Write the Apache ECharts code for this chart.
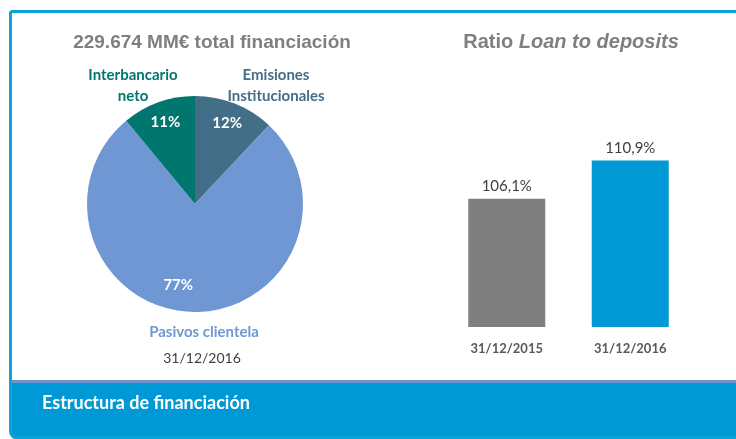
<!DOCTYPE html>
<html><head><meta charset="utf-8">
<script src="https://cdn.jsdelivr.net/npm/echarts@6/dist/echarts.min.js"></script>
<style>html,body{margin:0;padding:0;background:#fff}#c{width:736px;height:439px}</style>
</head><body><div id="c"></div>
<script>
const pieNames = ['Emisiones\nInstitucionales', 'Pasivos clientela', 'Interbancario\nneto'];
const pieValues = [12, 77, 11];
const pieColors = ['#436E87', '#6F97D4', '#00766E'];
const barCategories = ['31/12/2015', '31/12/2016'];
const barValues = [106.1, 110.9];
const barColors = ['#7F7F7F', '#0099D6'];
const pieTitle = '229.674 MM€ total financiación';
const pieDate = '31/12/2016';
const bannerText = 'Estructura de financiación';

const F = 'Lato, "Noto Sans", sans-serif';
const chart = echarts.init(document.getElementById('c'));
const cx = 195, cy = 204, R = 108;

chart.setOption({
  animation: false,
  title: [
    { text: pieTitle, left: 207, top: 28, textAlign: 'center',
      textStyle: { fontFamily: 'Liberation Sans, Arial', fontSize: 19, fontWeight: 'bold', color: '#7F7F7F' } },
    { text: '{a|Ratio }{b|Loan to deposits}', left: 566, top: 27, textAlign: 'center',
      textStyle: { rich: {
        a: { fontFamily: 'Liberation Sans, Arial', fontSize: 20, fontWeight: 'bold', color: '#7F7F7F' },
        b: { fontFamily: 'Liberation Sans, Arial', fontSize: 20, fontWeight: 'bold', fontStyle: 'italic', color: '#7F7F7F' } } } }
  ],
  grid: { left: 445, right: 44, top: 104, bottom: 112 },
  xAxis: { type: 'category', data: barCategories,
    axisLine: { show: false }, axisTick: { show: false },
    axisLabel: { margin: 15, fontFamily: F, fontSize: 13, fontWeight: 'bold', color: '#595959' } },
  yAxis: { type: 'value', min: 90, max: 118, show: false, splitLine: { show: false } },
  series: [
    { type: 'pie', center: [cx, cy], radius: R, startAngle: 90, clockwise: true,
      silent: true, label: { show: false }, labelLine: { show: false },
      data: pieValues.map((v, i) => ({ value: v, name: pieNames[i], itemStyle: { color: pieColors[i] } })) },
    { type: 'pie', center: [cx, cy], radius: R * 1.56, startAngle: 90, clockwise: true,
      silent: true, itemStyle: { color: 'rgba(0,0,0,0)' }, labelLine: { show: false },
      label: { show: true, position: 'inside', formatter: '{c}%', fontFamily: F, fontSize: 15, fontWeight: 'bold', color: '#fff' },
      data: pieValues.map((v, i) => ({ value: v, name: pieNames[i],
        label: i === 1 ? { offset: [-14, -6] } : {} })) },
    { type: 'bar', barWidth: 77,
      data: barValues.map((v, i) => ({ value: v, itemStyle: { color: barColors[i] } })),
      label: { show: true, position: 'top', distance: 5,
        formatter: p => p.value.toFixed(1).replace('.', ',') + '%',
        fontFamily: F, fontSize: 15, color: '#3F3F3F' } }
  ],
  graphic: [
    { type: 'rect', shape: { x: 10.5, y: 11.5, width: 740, height: 426, r: [0, 0, 0, 6] },
      style: { fill: 'none', stroke: '#0AA3DC', lineWidth: 3 }, z: 10 },
    { type: 'rect', shape: { x: 10, y: 380, width: 730, height: 59, r: [0, 0, 0, 6] },
      style: { fill: '#0099D5' }, z: 5 },
    { type: 'rect', shape: { x: 12, y: 380, width: 730, height: 3 },
      style: { fill: '#6E93CC' }, z: 6 },
    { type: 'text', left: 42, top: 394, z: 12,
      style: { text: bannerText, fontFamily: F, fontSize: 18, fontWeight: 'bold', fill: '#fff' } },
    { type: 'text', x: 133, y: 86, z: 12,
      style: { text: pieNames[2], align: 'center', verticalAlign: 'middle', lineHeight: 21,
        fontFamily: F, fontSize: 15, fontWeight: 'bold', fill: pieColors[2] } },
    { type: 'text', x: 276, y: 86, z: 12,
      style: { text: pieNames[0], align: 'center', verticalAlign: 'middle', lineHeight: 21,
        fontFamily: F, fontSize: 15, fontWeight: 'bold', fill: pieColors[0] } },
    { type: 'text', x: 204, y: 332, z: 12,
      style: { text: pieNames[1], align: 'center', verticalAlign: 'middle',
        fontFamily: F, fontSize: 15, fontWeight: 'bold', fill: pieColors[1] } },
    { type: 'text', x: 202, y: 358, z: 12,
      style: { text: pieDate, align: 'center', verticalAlign: 'middle',
        fontFamily: F, fontSize: 14, fill: '#3F3F3F' } }
  ]
});
</script></body></html>
